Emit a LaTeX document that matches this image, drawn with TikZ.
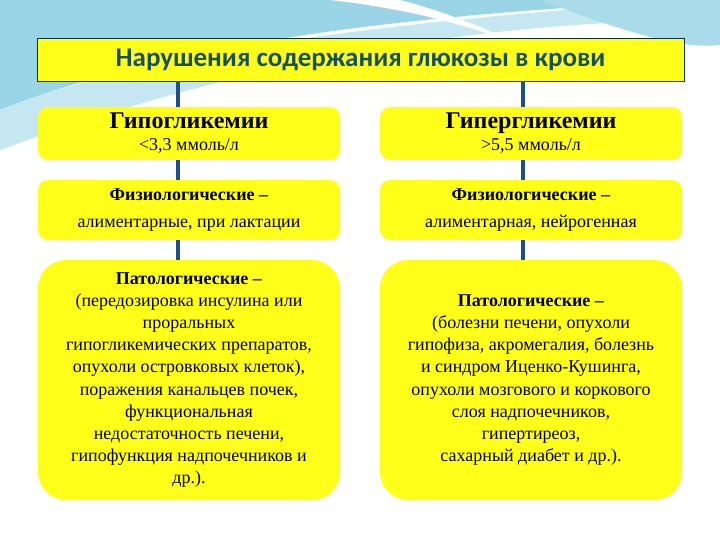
\documentclass[tikz,border=0pt]{standalone}
\usepackage{fontspec}
\setmainfont{Liberation Serif}
\newfontfamily\titlefont{Carlito}
\begin{document}
\begin{tikzpicture}[x=1pt,y=-1pt,
  box/.style={fill=ybox,draw=none,rounded corners=10pt,align=center,inner sep=0pt,font=\fontsize{18}{27}\selectfont},
  big/.style={fill=ybox,draw=none,rounded corners=28pt,align=center,inner sep=0pt,font=\fontsize{18}{22.2}\selectfont},
  conn/.style={draw=lineblue,line width=3.5pt}]
\definecolor{ybox}{HTML}{FFFF1A}
\definecolor{lineblue}{HTML}{1F4E8C}
\definecolor{ttl}{HTML}{17505A}
\definecolor{sky}{HTML}{6FC3DD}
\useasboundingbox (0,0) rectangle (720,540);
\fill[white] (0,0) rectangle (720,540);
% swoosh
\fill[sky!70] (0,0) -- (700,0) .. controls (500,10) and (200,30) .. (0,110) -- cycle;
\fill[sky!40] (0,110) .. controls (150,50) and (400,20) .. (700,0) -- (720,0) -- (720,20) .. controls (550,20) and (300,40) .. (0,150) -- cycle;
\fill[sky!60] (540,0) .. controls (620,30) and (680,50) .. (720,45) -- (720,0) -- cycle;
\fill[white] (330,0) .. controls (420,10) and (480,30) .. (520,45) .. controls (470,20) and (420,5) .. (400,0) -- cycle;
% title
\node[fill=ybox,draw=ttl!60!black,line width=0.6pt,minimum width=647pt,minimum height=43pt,inner sep=0pt,font=\titlefont\bfseries\fontsize{27}{30}\selectfont,text=ttl] (t) at (360.5,59.5) {Нарушения содержания глюкозы в крови};
% boxes
\node[box,minimum width=302pt,minimum height=53pt] (l1) at (189,133.5) {{\fontsize{24}{26}\selectfont\bfseries Гипогликемии}\\[-5pt]<3,3 ммоль/л};
\node[box,minimum width=302pt,minimum height=53pt] (r1) at (531,133.5) {{\fontsize{24}{26}\selectfont\bfseries Гипергликемии}\\[-5pt]>5,5 ммоль/л};
\node[box,minimum width=302pt,minimum height=60pt] (l2) at (189,210) {\textbf{Физиологические –}\\алиментарные, при лактации};
\node[box,minimum width=302pt,minimum height=60pt] (r2) at (531,210) {\textbf{Физиологические –}\\алиментарная, нейрогенная};
\node[big,minimum width=302pt,minimum height=240pt] (l3) at (189,380) {\textbf{Патологические –}\\(передозировка инсулина или\\проральных\\гипогликемических препаратов,\\опухоли островковых клеток),\\поражения канальцев почек,\\функциональная\\недостаточность печени,\\гипофункция надпочечников и\\др.).};
\node[big,minimum width=302pt,minimum height=240pt] (r3) at (531,380) {\textbf{Патологические –}\\(болезни печени, опухоли\\гипофиза, акромегалия, болезнь\\и синдром Иценко-Кушинга,\\опухоли мозгового и коркового\\слоя надпочечников,\\гипертиреоз,\\сахарный диабет и др.).};
% connectors
\draw[conn] (t.south -| 178,0) -- (l1.north -| 178,0);
\draw[conn] (t.south -| 523,0) -- (r1.north -| 523,0);
\draw[conn] (l1.south -| 178,0) -- (l2.north -| 178,0);
\draw[conn] (r1.south -| 523,0) -- (r2.north -| 523,0);
\draw[conn] (l2.south -| 178,0) -- (l3.north -| 178,0);
\draw[conn] (r2.south -| 523,0) -- (r3.north -| 523,0);
\end{tikzpicture}
\end{document}
